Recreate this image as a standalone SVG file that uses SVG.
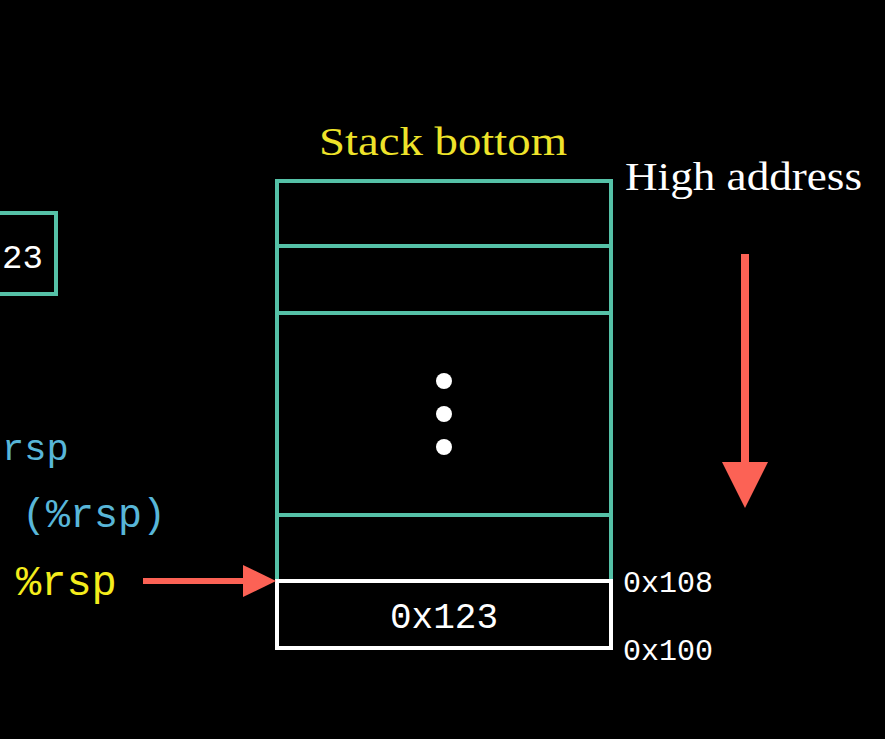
<svg xmlns="http://www.w3.org/2000/svg" width="885" height="739" viewBox="0 0 885 739">
<style>
.teal{fill:none;stroke:#55C1A7;stroke-width:4}
.white{fill:none;stroke:#FFFFFF;stroke-width:4}
.mono{font-family:"Liberation Mono","Courier New",monospace}
.serif{font-family:"Liberation Serif","Times New Roman",serif}
.red{fill:#FC6255}
</style>
<rect x="0" y="0" width="885" height="739" fill="#000000"/>
<g id="reg-box">
<rect x="-20" y="213" width="76" height="81" class="teal"/>
<text x="2" y="268" class="mono" font-size="34" fill="#FFFFFF">23</text>
</g>
<g id="code">
<text x="2" y="460" class="mono" font-size="37" fill="#58B6D8">rsp</text>
<text x="22" y="527" class="mono" font-size="40" fill="#58B6D8">(%rsp)</text>
<text x="16" y="595" class="mono" font-size="42" fill="#F4EC1C">%rsp</text>
</g>
<g id="stack">
<text x="443" y="155" class="serif" font-size="40" fill="#EEE32A" text-anchor="middle" textLength="248" lengthAdjust="spacingAndGlyphs">Stack bottom</text>
<text x="625" y="190" class="serif" font-size="40" fill="#FFFFFF" textLength="237" lengthAdjust="spacingAndGlyphs">High address</text>
<path d="M277 581 V181 H611 V581 M277 246 H611 M277 313 H611 M277 515 H611" class="teal"/>
<circle cx="444" cy="381" r="8" fill="#FFFFFF"/>
<circle cx="444" cy="414" r="8" fill="#FFFFFF"/>
<circle cx="444" cy="447" r="8" fill="#FFFFFF"/>
</g>
<g id="top-slot">
<rect x="277" y="581" width="334" height="67" class="white"/>
<text x="444" y="628" class="mono" font-size="36" fill="#FFFFFF" text-anchor="middle">0x123</text>
</g>
<g id="addr-labels">
<text x="623" y="592" class="mono" font-size="30" fill="#FFFFFF">0x108</text>
<text x="623" y="660" class="mono" font-size="30" fill="#FFFFFF">0x100</text>
</g>
<g id="connectors">
<rect x="143" y="578" width="104" height="6" class="red"/>
<polygon points="243,565 276,581 243,597" class="red"/>
<rect x="741" y="254" width="8" height="212" class="red"/>
<polygon points="722,462 768,462 745,508" class="red"/>
</g>
</svg>
